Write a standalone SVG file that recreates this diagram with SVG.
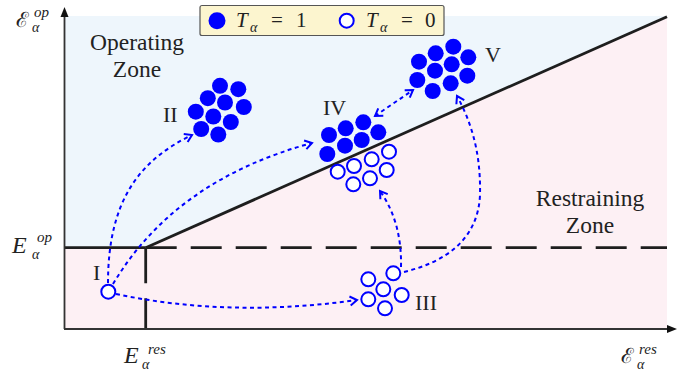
<svg xmlns="http://www.w3.org/2000/svg" width="689" height="376" viewBox="0 0 689 376">
<style>
  text { fill: #222; }
  .it { font-style: italic; }
  .lbl { font-size: 23.5px; }
  .num { font-size: 22px; }
  .on { fill: #0000ff; stroke: none; }
  .off { fill: #ffffff; stroke: #0000ff; stroke-width: 2; }
  .conn { fill: none; stroke: #0000ff; stroke-width: 2; stroke-dasharray: 4 3.5; }
  .axis { stroke: #333; stroke-width: 1.8; fill: none; }
  .bound { stroke: #1e1e1e; stroke-width: 2.8; fill: none; }
</style>
<defs>
  <marker id="arr" viewBox="-9 -6 11 12" refX="0" refY="0" markerWidth="11" markerHeight="12" markerUnits="userSpaceOnUse" orient="auto-start-reverse">
    <path d="M-7,-4.5 L0,0 L-7,4.5" fill="none" stroke="#0000ff" stroke-width="2" stroke-dasharray="none"/>
  </marker>
</defs>

<g id="background">
  <polygon points="64,16 667,16 667,16.8 145.7,247.7 64,247.7" fill="#eef6fc"/>
  <polygon points="64,247.7 145.7,247.7 667,16.8 667,329 64,329" fill="#fdf0f4"/>
</g>

<g id="boundaries">
  <line class="bound" x1="64" y1="247.7" x2="145.7" y2="247.7"/>
  <line class="bound" x1="145.7" y1="247.7" x2="667" y2="16.8"/>
  <line class="bound" x1="145.7" y1="247.7" x2="667" y2="247.7" stroke-dasharray="31 14"/>
  <path class="bound" d="M145.7,247.7 V283.3 M145.7,298.3 V329"/>
</g>

<g id="axes">
  <line class="axis" x1="64.5" y1="329" x2="64.5" y2="15"/>
  <polygon points="64.5,7 60.5,17 68.5,17" fill="#111"/>
  <line class="axis" x1="64" y1="329" x2="668" y2="329"/>
  <polygon points="677,329 667,325 667,333" fill="#111"/>
</g>

<g id="axis-labels">
  <text font-family="Liberation Serif" x="16" y="27" font-size="21">ℰ</text>
  <text font-family="Liberation Serif" class="it" x="34" y="17" font-size="15">op</text>
  <text font-family="Liberation Serif" class="it" x="32" y="32" font-size="14">α</text>

  <text font-family="Liberation Serif" class="it" x="12" y="253" font-size="24">E</text>
  <text font-family="Liberation Serif" class="it" x="37" y="242" font-size="15">op</text>
  <text font-family="Liberation Serif" class="it" x="32" y="259" font-size="14">α</text>

  <text font-family="Liberation Serif" class="it" x="124" y="363" font-size="24">E</text>
  <text font-family="Liberation Serif" class="it" x="148" y="354" font-size="15">res</text>
  <text font-family="Liberation Serif" class="it" x="142" y="369" font-size="14">α</text>

  <text font-family="Liberation Serif" x="621" y="363" font-size="21">ℰ</text>
  <text font-family="Liberation Serif" class="it" x="639" y="354" font-size="15">res</text>
  <text font-family="Liberation Serif" class="it" x="637" y="369" font-size="14">α</text>
</g>

<g id="zone-labels">
  <text font-family="Liberation Serif" class="lbl" x="137" y="50" text-anchor="middle">Operating</text>
  <text font-family="Liberation Serif" class="lbl" x="137" y="77" text-anchor="middle">Zone</text>
  <text font-family="Liberation Serif" class="lbl" x="590" y="206" text-anchor="middle">Restraining</text>
  <text font-family="Liberation Serif" class="lbl" x="590" y="233" text-anchor="middle">Zone</text>
</g>

<g id="legend">
  <rect x="200" y="5.5" width="244" height="30" rx="2" fill="#fcf5cf" stroke="#555" stroke-width="1.2"/>
  <circle class="on" cx="217" cy="20.7" r="8.5"/>
  <text font-family="Liberation Serif" class="it" x="236" y="27" font-size="21">T</text>
  <text font-family="Liberation Serif" class="it" x="250" y="31.5" font-size="14">α</text>
  <text font-family="Liberation Serif" x="271" y="27" font-size="21">=</text>
  <text font-family="Liberation Serif" x="296" y="27" font-size="21">1</text>
  <circle class="off" cx="346.7" cy="20.7" r="7"/>
  <text font-family="Liberation Serif" class="it" x="366" y="27" font-size="21">T</text>
  <text font-family="Liberation Serif" class="it" x="380" y="31.5" font-size="14">α</text>
  <text font-family="Liberation Serif" x="401" y="27" font-size="21">=</text>
  <text font-family="Liberation Serif" x="425" y="27" font-size="21">0</text>
</g>

<g id="connectors">
  <path class="conn" d="M108,283 C108,200 140,160 192,135" marker-end="url(#arr)"/>
  <path class="conn" d="M113,284 Q175,180 312,143" marker-end="url(#arr)"/>
  <path class="conn" d="M116,294 Q230,318 357,300" marker-end="url(#arr)"/>
  <path class="conn" d="M401,267 Q402,222 380,191" marker-end="url(#arr)"/>
  <path class="conn" d="M404,272 C445,262 478,240 480,195 C481,150 470,120 457,96" marker-end="url(#arr)"/>
  <path class="conn" d="M375,116 L413,90" marker-start="url(#arr)" marker-end="url(#arr)"/>
</g>

<g id="node-I">
  <circle class="off" cx="108.3" cy="291.7" r="7"/>
  <text font-family="Liberation Serif" class="num" x="93" y="280">I</text>
</g>

<g id="node-II">
  <circle class="on" cx="220" cy="85.8" r="8"/>
  <circle class="on" cx="238.3" cy="89.2" r="8"/>
  <circle class="on" cx="207.8" cy="98.2" r="8"/>
  <circle class="on" cx="225" cy="102.5" r="8"/>
  <circle class="on" cx="243.8" cy="107" r="8"/>
  <circle class="on" cx="195.8" cy="111.7" r="8"/>
  <circle class="on" cx="213.3" cy="116.5" r="8"/>
  <circle class="on" cx="230.8" cy="122" r="8"/>
  <circle class="on" cx="201.2" cy="129" r="8"/>
  <circle class="on" cx="218.3" cy="134.5" r="8"/>
  <text font-family="Liberation Serif" class="num" x="163" y="122">II</text>
</g>

<g id="node-III">
  <circle class="off" cx="393.3" cy="273.3" r="7"/>
  <circle class="off" cx="368.3" cy="279.3" r="7"/>
  <circle class="off" cx="383.3" cy="289.3" r="7"/>
  <circle class="off" cx="368.3" cy="299.3" r="7"/>
  <circle class="off" cx="401.7" cy="295" r="7"/>
  <circle class="off" cx="385" cy="308.3" r="7"/>
  <text font-family="Liberation Serif" class="num" x="415" y="310">III</text>
</g>

<g id="node-IV">
  <circle class="on" cx="363.3" cy="122.3" r="8"/>
  <circle class="on" cx="345.7" cy="128.3" r="8"/>
  <circle class="on" cx="378.3" cy="132.3" r="8"/>
  <circle class="on" cx="329" cy="135" r="8"/>
  <circle class="on" cx="361.7" cy="140" r="8"/>
  <circle class="on" cx="345" cy="145.7" r="8"/>
  <circle class="on" cx="327.3" cy="154" r="8"/>
  <circle class="off" cx="389" cy="151.7" r="7"/>
  <circle class="off" cx="371.7" cy="159.3" r="7"/>
  <circle class="off" cx="354" cy="166" r="7"/>
  <circle class="off" cx="386.7" cy="170" r="7"/>
  <circle class="off" cx="337.7" cy="171.7" r="7"/>
  <circle class="off" cx="370" cy="178.3" r="7"/>
  <circle class="off" cx="353.3" cy="184.3" r="7"/>
  <text font-family="Liberation Serif" class="num" x="323" y="115">IV</text>
</g>

<g id="node-V">
  <circle class="on" cx="453.3" cy="46.7" r="8"/>
  <circle class="on" cx="435.7" cy="53.3" r="8"/>
  <circle class="on" cx="468.3" cy="57.3" r="8"/>
  <circle class="on" cx="419" cy="61.7" r="8"/>
  <circle class="on" cx="451.7" cy="64.3" r="8"/>
  <circle class="on" cx="435" cy="70.7" r="8"/>
  <circle class="on" cx="467.3" cy="75.7" r="8"/>
  <circle class="on" cx="417.3" cy="80" r="8"/>
  <circle class="on" cx="450.7" cy="83.3" r="8"/>
  <circle class="on" cx="432.7" cy="91" r="8"/>
  <text font-family="Liberation Serif" class="num" x="485" y="62">V</text>
</g>
</svg>
